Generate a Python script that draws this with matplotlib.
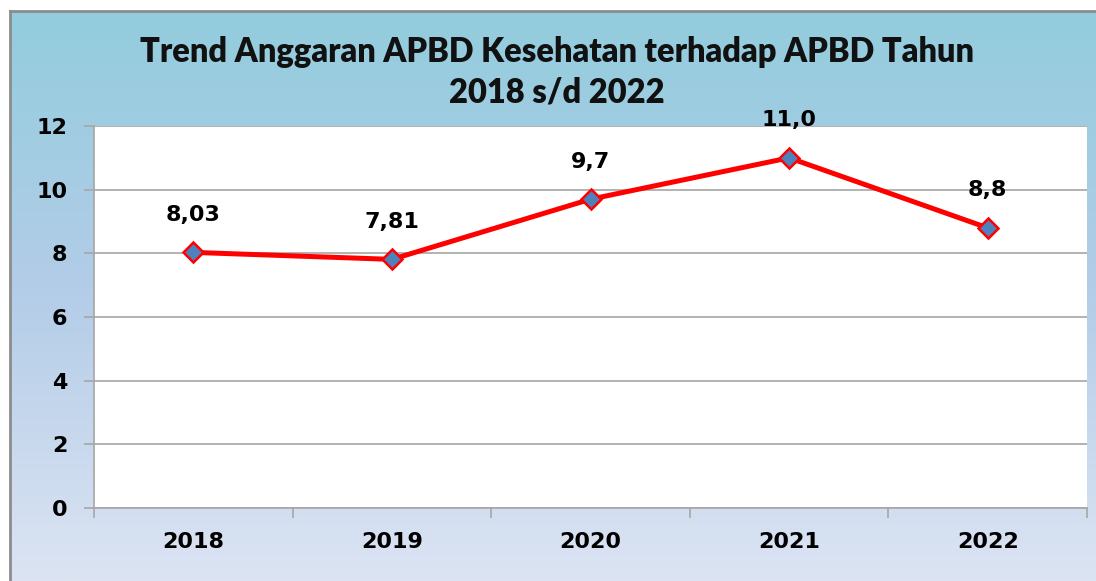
import matplotlib.pyplot as plt
import numpy as np
from matplotlib.colors import LinearSegmentedColormap

# data
tahun = ['2018', '2019', '2020', '2021', '2022']
nilai = [8.03, 7.81, 9.7, 11.0, 8.8]
label = ['8,03', '7,81', '9,7', '11,0', '8,8']
yticks = [0, 2, 4, 6, 8, 10, 12]

fig = plt.figure(figsize=(10.96, 5.81), dpi=100)

# background with gradient
bg = fig.add_axes([10/1096, 0, 1 - 10/1096, 1 - 11/581])
cmap = LinearSegmentedColormap.from_list('bg', ['#92CCDD', '#B4CDE8', '#DCE4F3'])
grad = np.linspace(0, 1, 256).reshape(-1, 1)
bg.imshow(grad, aspect='auto', cmap=cmap, extent=[0, 1, 0, 1], origin='upper')
bg.set_xticks([])
bg.set_yticks([])
for s in ['right', 'bottom']:
    bg.spines[s].set_visible(False)
for s in ['left', 'top']:
    bg.spines[s].set_color('#8C8C8C')
    bg.spines[s].set_linewidth(2)

# title
fig.text(0.508, 1 - 72/581, 'Trend Anggaran APBD Kesehatan terhadap APBD Tahun\n2018 s/d 2022',
         ha='center', va='center', fontsize=23.5, fontweight='heavy', family='Lato',
         linespacing=1.33, color='#111111')

ax = fig.add_axes([94/1096, 1 - 508/581, (1087 - 94)/1096, (508 - 126)/581])
ax.set_facecolor('white')
x = np.arange(len(tahun))
ax.plot(x, nilai, color='#FF0000', lw=3.6, marker='D', ms=10,
        mfc='#4F81BD', mec='#FF0000', mew=1.8, zorder=3)
for xi, yi, t in zip(x, nilai, label):
    ax.annotate(t, (xi, yi), xytext=(0, 27), textcoords='offset points',
                ha='center', va='center', fontsize=16, fontweight='bold')

ax.set_xlim(-0.5, len(tahun) - 0.5)
ax.set_ylim(0, 12)
ax.set_yticks(yticks)
ax.set_yticklabels([str(v) for v in yticks])
ax.yaxis.grid(True, color='#A6A6A6', lw=1.2)
ax.set_axisbelow(True)
ax.set_xticks(x)
ax.set_xticklabels(tahun)
ax.set_xticks(np.arange(-0.5, len(tahun)), minor=True)
ax.tick_params(axis='x', which='major', length=0, pad=17, labelsize=16)
ax.tick_params(axis='x', which='minor', length=7, color='#A6A6A6', width=1.2)
ax.tick_params(axis='y', length=7, pad=12, labelsize=16, color='#A6A6A6', width=1.2)
for t in ax.get_xticklabels() + ax.get_yticklabels():
    t.set_fontweight('bold')
for s in ['top', 'right']:
    ax.spines[s].set_visible(False)
for s in ['left', 'bottom']:
    ax.spines[s].set_color('#A6A6A6')
    ax.spines[s].set_linewidth(1.2)

fig.savefig('out.png', dpi=100)
